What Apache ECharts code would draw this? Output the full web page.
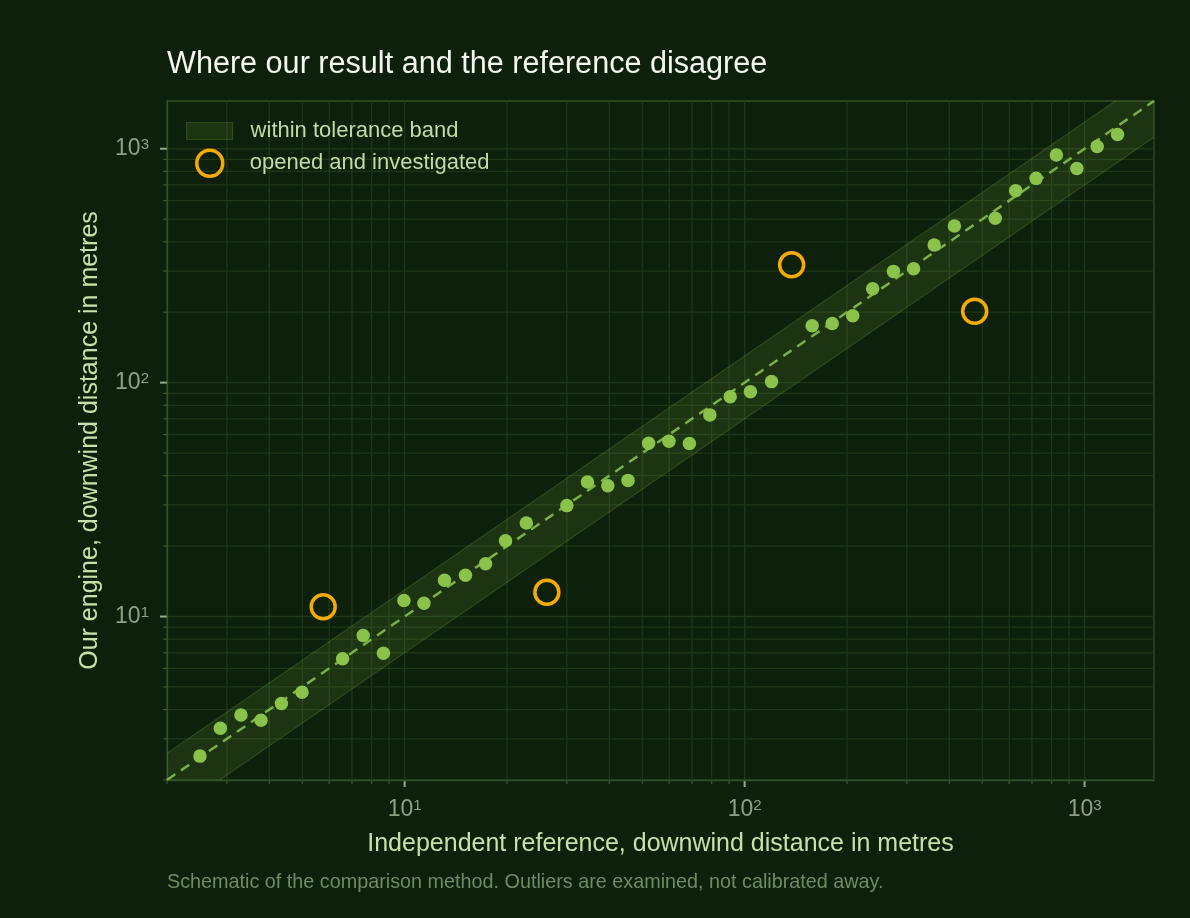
<!DOCTYPE html>
<html>
<head>
<meta charset="utf-8">
<script src="https://cdn.jsdelivr.net/npm/echarts@6/dist/echarts.min.js"></script>
<style>
html,body{margin:0;padding:0;background:#0d200b;}
#chart{width:1190px;height:918px;}
</style>
</head>
<body>
<div id="chart"></div>
<script>
// ---- data ----
const inBandRef = [2.5, 2.87, 3.30, 3.78, 4.34, 4.99, 6.57, 7.55, 8.66, 9.95, 11.4, 13.1, 15.1, 17.3, 19.8, 22.8,
  30.0, 34.5, 39.6, 45.4, 52.2, 59.9, 68.8, 79.0, 90.7, 104, 120, 158, 181, 208, 238, 274, 314, 361, 414,
  546, 627, 720, 826, 949, 1089, 1250];
const inBandOurs = [2.53, 3.33, 3.79, 3.60, 4.25, 4.75, 6.60, 8.30, 6.97, 11.7, 11.4, 14.3, 15.0, 16.8, 21.1, 25.1,
  29.8, 37.6, 36.2, 38.2, 55.1, 56.1, 54.9, 72.8, 87.1, 91.5, 101, 175, 179, 193, 252, 299, 307, 388, 467,
  504, 662, 747, 940, 824, 1023, 1151];
const outlierRef = [5.76, 26.2, 137.5, 475];
const outlierOurs = [11.0, 12.7, 319, 202];
const axisMin = 2, axisMax = 1600;
const toleranceLow = 0.7, toleranceHigh = 1.3;
const majorTicks = [10, 100, 1000];
const minorTicks = [2, 3, 4, 5, 6, 7, 8, 9, 20, 30, 40, 50, 60, 70, 80, 90, 200, 300, 400, 500, 600, 700, 800, 900];

const FONT = '"Liberation Sans", Arial, Helvetica, sans-serif';
const BG = '#0d200b';
const GRID = '#1d3717';
const FRAME = '#32502a';
const DOT = '#8bc34a';
const DASH = '#7cb046';
const RING = '#f7ab00';
const BAND_FILL = 'rgba(139,195,74,0.12)';
const BAND_EDGE = 'rgba(139,195,74,0.20)';

const tickData = majorTicks.map(v => [v, v, 1]).concat(minorTicks.map(v => [v, v, 0]));

function labelFmt(v) {
  const e = Math.log10(v);
  const r = Math.round(e);
  if (Math.abs(e - r) > 1e-6) return '';
  return '10{sup|' + r + '}';
}

function renderXGrid(params, api) {
  const cs = params.coordSys;
  const px = api.coord([api.value(0), axisMin])[0];
  const major = api.value(2) === 1;
  const bottom = cs.y + cs.height;
  return {
    type: 'group',
    children: [
      { type: 'line', shape: { x1: px, y1: cs.y, x2: px, y2: bottom }, style: { stroke: GRID, lineWidth: 1.3 } },
      { type: 'line', shape: { x1: px, y1: bottom, x2: px, y2: bottom + (major ? 7 : 4) },
        style: { stroke: major ? '#98a98a' : '#3b5932', lineWidth: major ? 2 : 1.2 } }
    ]
  };
}
function renderYGrid(params, api) {
  const cs = params.coordSys;
  const py = api.coord([axisMin, api.value(1)])[1];
  const major = api.value(2) === 1;
  return {
    type: 'group',
    children: [
      { type: 'line', shape: { x1: cs.x, y1: py, x2: cs.x + cs.width, y2: py }, style: { stroke: GRID, lineWidth: 1.3 } },
      { type: 'line', shape: { x1: cs.x, y1: py, x2: cs.x - (major ? 7 : 4), y2: py },
        style: { stroke: major ? '#98a98a' : '#3b5932', lineWidth: major ? 2 : 1.2 } }
    ]
  };
}
function renderBand(params, api) {
  // polygon of the tolerance band, kept inside the axis ranges
  const upperPts = [[axisMin, axisMin * toleranceHigh], [axisMax / toleranceHigh, axisMax]];
  const lowerPts = [[axisMax, axisMax * toleranceLow], [axisMin / toleranceLow, axisMin]];
  const poly = [upperPts[0], upperPts[1], [axisMax, axisMax], lowerPts[0], lowerPts[1], [axisMin, axisMin]].map(p => api.coord(p));
  return {
    type: 'group',
    children: [
      { type: 'polygon', shape: { points: poly }, style: { fill: BAND_FILL } },
      { type: 'polyline', shape: { points: upperPts.map(p => api.coord(p)) }, style: { stroke: BAND_EDGE, lineWidth: 1.2, fill: null } },
      { type: 'polyline', shape: { points: lowerPts.map(p => api.coord(p)) }, style: { stroke: BAND_EDGE, lineWidth: 1.2, fill: null } }
    ]
  };
}

const chart = echarts.init(document.getElementById('chart'));
const option = {
  backgroundColor: BG,
  animation: false,
  textStyle: { fontFamily: FONT },
  title: {
    text: 'Where our result and the reference disagree',
    left: 167, top: 49, padding: 0,
    textStyle: { color: '#f4f6f0', fontSize: 30.6, fontWeight: 'normal', fontFamily: FONT }
  },
  legend: [
    {
      left: 186, top: 120, padding: 0, orient: 'vertical', selectedMode: false,
      itemWidth: 46, itemHeight: 17,
      data: [{ name: 'within tolerance band', icon: 'rect',
        itemStyle: { color: 'rgba(139,195,74,0.13)', borderColor: 'rgba(139,195,74,0.22)', borderWidth: 1.2 } }],
      textStyle: { color: '#c3d9a6', fontSize: 22, fontFamily: FONT, padding: [0, 0, 0, 13] }
    },
    {
      left: 195, top: 148.5, padding: 0, orient: 'vertical', selectedMode: false,
      itemWidth: 26, itemHeight: 26,
      data: [{ name: 'opened and investigated', icon: 'circle',
        itemStyle: { color: 'transparent', borderColor: RING, borderWidth: 3.5 } }],
      textStyle: { color: '#c3d9a6', fontSize: 22, fontFamily: FONT, padding: [0, 0, 0, 22] }
    }
  ],
  grid: { left: 167, right: 36, top: 101, bottom: 138, show: true, borderColor: FRAME, borderWidth: 1.3, backgroundColor: 'transparent' },
  xAxis: {
    type: 'log', logBase: 10, min: axisMin, max: axisMax,
    name: 'Independent reference, downwind distance in metres',
    nameLocation: 'middle', nameGap: 52,
    nameTextStyle: { color: '#c8e0a8', fontSize: 25, fontFamily: FONT },
    axisLine: { show: true, lineStyle: { color: FRAME, width: 1.3 } },
    axisTick: { show: false },
    splitLine: { show: false },
    minorTick: { show: false }, minorSplitLine: { show: false },
    axisLabel: {
      formatter: labelFmt, margin: 18, color: '#8fa084', fontSize: 23, fontFamily: FONT,
      showMinLabel: false, showMaxLabel: false,
      rich: { sup: { fontSize: 15, verticalAlign: 'top', color: '#8fa084', fontFamily: FONT } }
    }
  },
  yAxis: {
    type: 'log', logBase: 10, min: axisMin, max: axisMax,
    name: 'Our engine, downwind distance in metres',
    nameLocation: 'middle', nameGap: 64, nameRotate: 90,
    nameTextStyle: { color: '#c8e0a8', fontSize: 25, fontFamily: FONT },
    axisLine: { show: true, lineStyle: { color: FRAME, width: 1.3 } },
    axisTick: { show: false },
    splitLine: { show: false },
    minorTick: { show: false }, minorSplitLine: { show: false },
    axisLabel: {
      formatter: labelFmt, margin: 18, color: '#8fa084', fontSize: 23, fontFamily: FONT,
      showMinLabel: false, showMaxLabel: false,
      rich: { sup: { fontSize: 15, verticalAlign: 'top', color: '#8fa084', fontFamily: FONT } }
    }
  },
  series: [
    { name: 'xgrid', type: 'custom', renderItem: renderXGrid, data: tickData, encode: { x: 0, y: 1 }, z: 0, silent: true, clip: false },
    { name: 'ygrid', type: 'custom', renderItem: renderYGrid, data: tickData, encode: { x: 0, y: 1 }, z: 0, silent: true, clip: false },
    { name: 'within tolerance band', type: 'custom', renderItem: renderBand, data: [[axisMin, axisMin]], encode: { x: 0, y: 1 }, z: 1, silent: true,
      itemStyle: { color: 'rgba(139,195,74,0.13)' } },
    { name: 'parity', type: 'line', data: [[axisMin, axisMin], [axisMax, axisMax]], symbol: 'none', z: 2, silent: true,
      lineStyle: { color: DASH, width: 2.5, type: [10, 7] } },
    { name: 'in band', type: 'scatter', data: inBandRef.map((x, i) => [x, inBandOurs[i]]), symbolSize: 13.5, z: 3,
      itemStyle: { color: DOT, opacity: 1 } },
    { name: 'opened and investigated', type: 'scatter', data: outlierRef.map((x, i) => [x, outlierOurs[i]]), symbolSize: 24, z: 4,
      itemStyle: { color: 'transparent', borderColor: RING, borderWidth: 3.5, opacity: 1 } }
  ],
  graphic: [
    { type: 'text', left: 167, top: 873,
      style: { text: 'Schematic of the comparison method. Outliers are examined, not calibrated away.',
        fill: '#708a63', font: '19.8px ' + FONT } }
  ]
};
chart.setOption(option);
</script>
</body>
</html>
